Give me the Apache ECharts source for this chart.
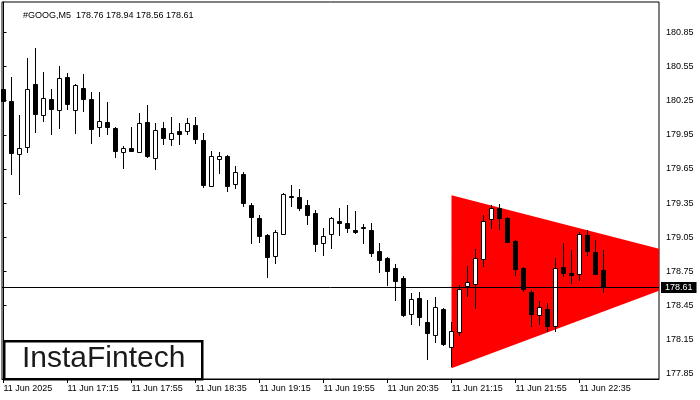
<!DOCTYPE html>
<html>
<head>
<meta charset="utf-8">
<script src="https://cdn.jsdelivr.net/npm/echarts@6/dist/echarts.min.js"></script>
<style>html,body{margin:0;padding:0;background:#fff;}#c{width:700px;height:400px;}</style>
</head>
<body>
<div id="c"></div>
<script>
const symbol = '#GOOG';
const timeframe = 'M5';
const opens  = [180.35,180.25,179.78,179.84,180.40,180.12,180.26,180.17,180.46,180.17,180.36,180.26,180.02,180.06,180.01,179.80,179.83,179.80,180.06,179.75,180.01,179.91,179.98,179.98,180.04,179.90,179.50,179.74,179.76,179.52,179.61,179.33,179.22,179.07,178.89,179.08,179.41,179.40,179.33,179.26,179.00,179.08,179.19,179.18,179.11,179.14,179.11,178.93,178.87,178.78,178.69,178.38,178.52,178.31,178.19,178.42,178.09,178.22,178.62,178.64,178.86,179.21,179.31,179.22,179.02,178.78,178.57,178.37,178.42,178.27,178.79,178.74,178.73,179.07,178.92,178.76];
const highs  = [180.87,180.46,180.12,180.62,180.71,180.50,180.35,180.55,180.49,180.40,180.48,180.33,180.33,180.24,180.02,179.85,180.02,180.14,180.21,180.05,180.06,180.11,180.05,180.10,180.11,179.97,179.81,179.80,179.77,179.68,179.62,179.35,179.25,179.08,179.11,179.44,179.51,179.47,179.38,179.29,179.13,179.23,179.31,179.33,179.28,179.17,179.18,179.00,178.88,178.82,178.71,178.56,178.57,178.50,178.53,178.43,178.31,178.63,178.80,178.95,179.25,179.33,179.34,179.23,179.03,178.79,178.59,178.49,178.47,178.87,179.00,178.94,179.10,179.11,179.03,178.94];
const lows   = [179.35,179.60,179.42,179.79,179.97,180.06,179.95,180.00,180.17,179.96,180.15,179.87,179.93,179.95,179.75,179.65,179.80,179.79,179.75,179.64,179.86,179.85,179.86,179.95,179.87,179.48,179.49,179.61,179.45,179.47,179.32,178.99,179.00,178.69,178.82,179.07,179.32,179.28,179.16,178.92,178.89,178.95,179.06,179.09,179.08,178.99,178.88,178.74,178.62,178.49,178.35,178.28,178.27,177.97,178.12,178.10,177.91,178.18,178.53,178.42,178.79,179.12,179.11,179.00,178.71,178.57,178.26,178.28,178.22,178.22,178.70,178.64,178.67,178.89,178.72,178.56];
const closes = [180.25,179.79,179.83,180.35,180.13,180.27,180.18,180.45,180.22,180.39,180.26,180.00,180.07,180.02,179.81,179.83,179.81,180.05,179.76,179.99,179.92,179.97,179.96,180.05,179.91,179.51,179.76,179.76,179.50,179.62,179.35,179.23,179.06,178.88,179.10,179.43,179.40,179.31,179.25,178.99,179.06,179.22,179.18,179.13,179.10,179.13,178.91,178.85,178.75,178.67,178.37,178.51,178.35,178.21,178.44,178.11,178.23,178.60,178.66,178.87,179.19,179.31,179.22,179.01,178.77,178.60,178.38,178.44,178.27,178.78,178.74,178.72,179.08,178.93,178.73,178.61];
const xTickLabels = ['11 Jun 2025','11 Jun 17:15','11 Jun 17:55','11 Jun 18:35','11 Jun 19:15','11 Jun 19:55','11 Jun 20:35','11 Jun 21:15','11 Jun 21:55','11 Jun 22:35'];
const barsPerTick = 8;
const yTickLabels = [177.85,178.15,178.45,178.75,179.05,179.35,179.65,179.95,180.25,180.55,180.85];
const patternUpper = [[56,179.42],[81.94,178.95]];
const patternLower = [[56,177.90],[81.94,178.58]];
const currentPrice = closes[closes.length-1];

const candleData = opens.map((o,i)=>[i,o,closes[i],lows[i],highs[i]]);
const xTickValues = xTickLabels.map((_,k)=>k*barsPerTick);
const last = opens.length-1;
const header = symbol + ',' + timeframe + '  ' + opens[last].toFixed(2) + ' ' + highs[last].toFixed(2) + ' ' + lows[last].toFixed(2) + ' ' + closes[last].toFixed(2);

const FONT = 'Liberation Sans, Arial, sans-serif';
const chart = echarts.init(document.getElementById('c'), null, {renderer:'canvas'});
chart.setOption({
  animation:false,
  backgroundColor:'#fff',
  title:{text:header,left:18,top:5,textStyle:{fontSize:9,fontWeight:'normal',color:'#000',fontFamily:FONT,lineHeight:11}},
  grid:{left:2,top:2,width:657,height:377,show:true,borderColor:'#000',borderWidth:1,backgroundColor:'#fff'},
  xAxis:{
    type:'value',min:-0.1875,max:81.9375,
    splitLine:{show:false},
    axisLine:{show:true,onZero:false,lineStyle:{color:'#000',width:1}},
    axisTick:{show:true,length:4,customValues:xTickValues,lineStyle:{color:'#000'}},
    axisLabel:{customValues:xTickValues,formatter:(v)=>xTickLabels[Math.round(v/barsPerTick)]||'',align:'left',margin:5,fontSize:9,color:'#000',fontFamily:FONT}
  },
  yAxis:{
    type:'value',position:'right',min:177.806,max:181.116,scale:true,
    splitLine:{show:false},
    axisLine:{show:true,lineStyle:{color:'#000',width:1}},
    axisTick:{show:true,length:3,customValues:yTickLabels,lineStyle:{color:'#000'}},
    axisLabel:{customValues:yTickLabels,formatter:(v)=>v.toFixed(2),margin:7,fontSize:9,color:'#000',fontFamily:FONT}
  },
  series:[
    {
      type:'custom',z:1,silent:true,data:[0],
      renderItem:(params,api)=>{
        const pts=[api.coord(patternUpper[0]),api.coord(patternUpper[1]),api.coord(patternLower[1]),api.coord(patternLower[0])];
        return {type:'polygon',shape:{points:pts},style:{fill:'#ff0000',stroke:null}};
      }
    },
    {
      type:'custom',z:2,silent:true,data:candleData,
      encode:{x:0,y:[1,2,3,4]},
      renderItem:(params,api)=>{
        const i=api.value(0),o=api.value(1),c=api.value(2),l=api.value(3),h=api.value(4);
        const cx=api.coord([i,o])[0];
        const yo=api.coord([i,o])[1],yc=api.coord([i,c])[1],yl=api.coord([i,l])[1],yh=api.coord([i,h])[1];
        let top=Math.round(Math.min(yo,yc))+0.5, bot=Math.round(Math.max(yo,yc))+0.5;
        if(bot-top<1) bot=top+1;
        const bull=c>=o;
        return {type:'group',children:[
          {type:'line',shape:{x1:cx,y1:Math.round(yh),x2:cx,y2:Math.round(yl)},style:{stroke:'#000',lineWidth:1}},
          {type:'rect',shape:{x:cx-2,y:top,width:4,height:bot-top},style:{fill:bull?'#fff':'#000',stroke:'#000',lineWidth:1}}
        ]};
      },
      markLine:{
        silent:true,symbol:['none','none'],z:5,
        lineStyle:{color:'#000',width:1,type:'solid'},
        label:{show:true,position:'end',formatter:currentPrice.toFixed(2),backgroundColor:'#000',color:'#fff',padding:[1,4,1,4],fontSize:9,fontFamily:FONT,distance:2},
        data:[{yAxis:currentPrice}]
      }
    }
  ],
  graphic:[
    {type:'rect',left:3,top:340,shape:{width:198,height:38},style:{fill:'#fff',stroke:'#000',lineWidth:2.5},z:100},
    {type:'text',left:22,top:344,style:{text:'InstaFintech',font:'30px Liberation Sans, Arial, sans-serif',fill:'#1a1a1a'},z:101}
  ]
});
</script>
</body>
</html>
